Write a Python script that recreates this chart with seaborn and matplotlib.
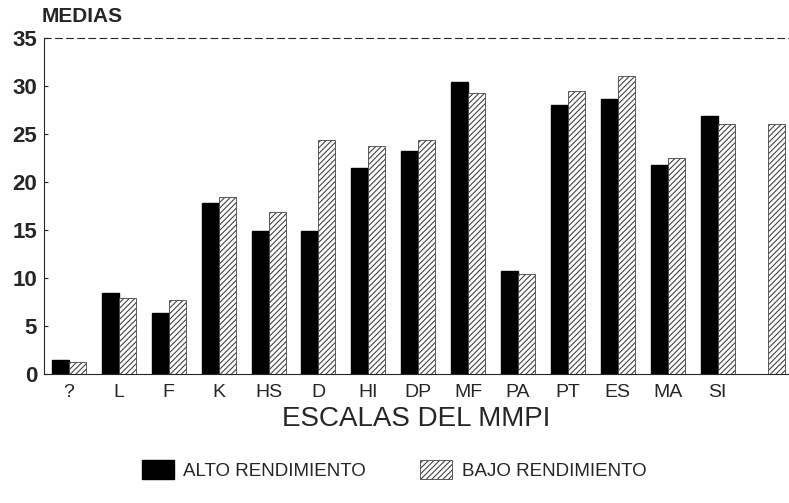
#Barras: medias de las escalas del MMPI por grupo de rendimiento

#import libraries
import numpy as np
import pandas as pd
import matplotlib
matplotlib.use('Agg')
import matplotlib.pyplot as plt
from matplotlib.patches import Patch
import seaborn as sns

#data
escalas = ['?', 'L', 'F', 'K', 'HS', 'D', 'HI', 'DP', 'MF', 'PA', 'PT', 'ES', 'MA', 'SI', '']
alto = [1.5, 8.4, 6.4, 17.8, 14.9, 14.9, 21.5, 23.2, 30.4, 10.7, 28.0, 28.6, 21.8, 26.9, np.nan]
bajo = [1.2, 7.9, 7.7, 18.4, 16.9, 24.4, 23.7, 24.4, 29.3, 10.4, 29.5, 31.0, 22.5, 26.0, 26.0]
grupos = ['ALTO RENDIMIENTO', 'BAJO RENDIMIENTO']
yticks = [0, 5, 10, 15, 20, 25, 30, 35]

df = pd.DataFrame({
    'escala': escalas * 2,
    'media': alto + bajo,
    'grupo': [grupos[0]] * len(escalas) + [grupos[1]] * len(escalas),
})

sns.set_style('white')
plt.rcParams['font.family'] = ['Liberation Sans', 'DejaVu Sans']
plt.rcParams['hatch.linewidth'] = 0.8

fig = plt.figure(figsize=(7.89, 5.03), dpi=100)
ax = fig.add_axes([44 / 789, 129 / 503, 745 / 789, 336 / 503])

sns.barplot(data=df, x='escala', y='media', hue='grupo', order=escalas,
            hue_order=grupos, palette=['black', 'white'], width=0.68,
            saturation=1, legend=False, ax=ax)

#hatch the second group
for bar in ax.containers[1]:
    bar.set_hatch('//////')
    bar.set_edgecolor('#444444')
    bar.set_linewidth(0.6)
for bar in ax.containers[0]:
    bar.set_edgecolor('black')

ax.set_xlim(-0.5, 14.43)
ax.set_ylim(0, 35)
ax.set_yticks(yticks)
ax.set_yticklabels([str(t) for t in yticks], fontsize=16, fontweight='bold')
ax.tick_params(axis='x', labelsize=14, length=0, pad=7)
ax.tick_params(axis='y', length=3, width=0.8, direction='in', left=True, pad=5)
ax.set_xlabel('ESCALAS DEL MMPI', fontsize=20, labelpad=4)
ax.set_ylabel('')

ax.spines['right'].set_visible(False)
ax.spines['top'].set_linestyle((0, (6, 4)))
ax.spines['top'].set_linewidth(0.8)
ax.spines['left'].set_linewidth(0.8)
ax.spines['bottom'].set_linewidth(0.8)

fig.text(42 / 789, 1 - 17 / 503, 'MEDIAS', fontsize=15, fontweight='bold', va='center', ha='left')

handles = [Patch(facecolor='black', edgecolor='black'),
           Patch(facecolor='white', edgecolor='#444444', hatch='//////', linewidth=0.6)]
fig.legend(handles, grupos, loc='center', bbox_to_anchor=(394 / 789, 1 - 470 / 503),
           ncol=2, frameon=False, fontsize=13.5, handlelength=1.7, handleheight=1.2,
           columnspacing=2.9, handletextpad=0.5)

fig.savefig('out.png', dpi=100)
